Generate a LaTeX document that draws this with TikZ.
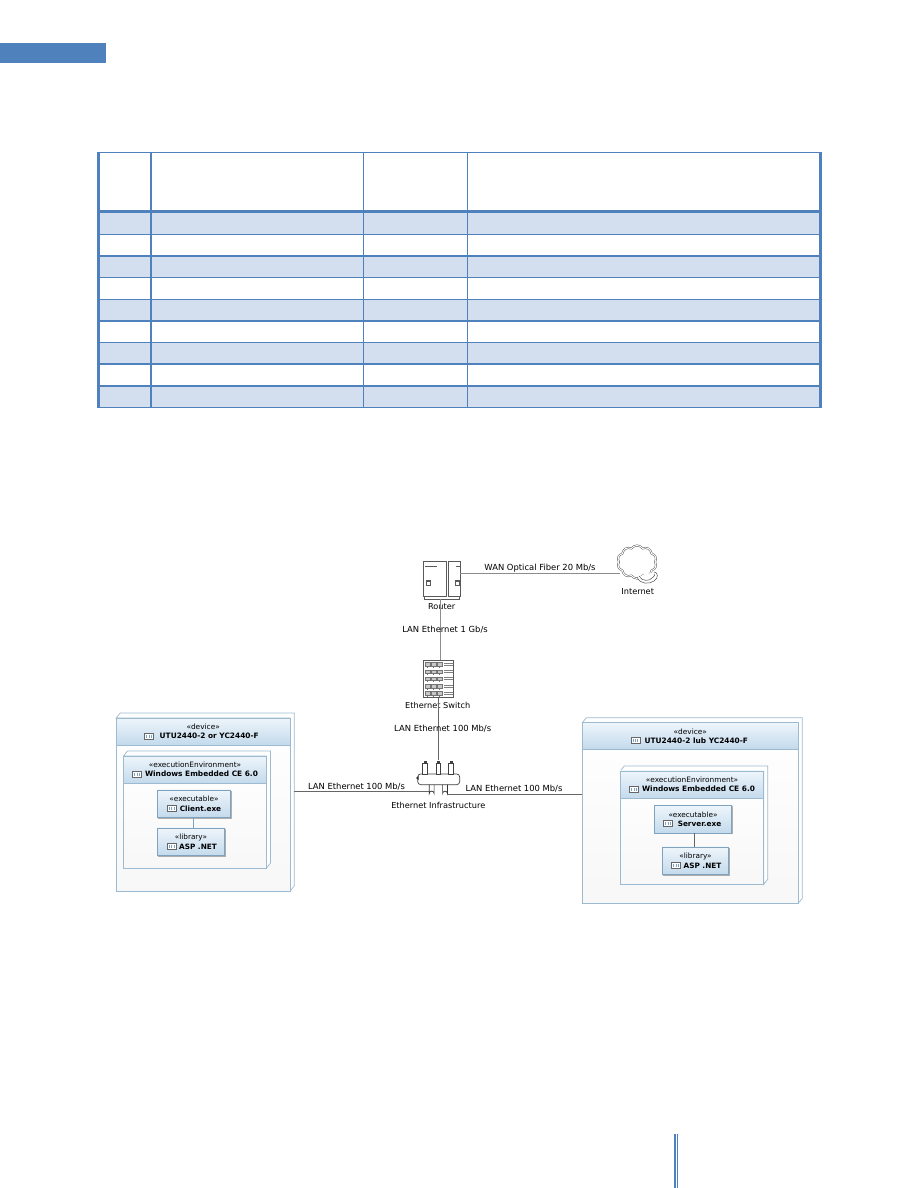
\documentclass[tikz,border=0pt]{standalone}
\usepackage{fontspec}
\setmainfont{DejaVu Sans}
\usetikzlibrary{shapes.symbols,shadows,calc}
\definecolor{acc}{HTML}{4F81BD}
\definecolor{band}{HTML}{D3DFEE}
\definecolor{edgeb}{HTML}{9DBBD0}
\definecolor{edged}{HTML}{7FA3BE}
\definecolor{headt}{HTML}{EEF5FB}
\definecolor{headb}{HTML}{C3DAEC}
\definecolor{linec}{HTML}{8C8C8C}
\tikzset{
  x=1pt,y=-1pt,
  thin rule/.style={acc,line width=1pt},
  thick rule/.style={acc,line width=2pt},
  heavy rule/.style={acc,line width=3pt},
  bodyfade/.style={draw=edgeb,line width=.7pt,inner sep=0,outer sep=0,top color=white,middle color=white,bottom color=black!3},
  headbox/.style={draw=edgeb,line width=.6pt,inner sep=0,outer sep=0,top color=headt,bottom color=headb,align=center,font=\fontsize{7.4}{9.2}\selectfont},
  artbox/.style={draw=edged,line width=.7pt,inner sep=0,outer sep=0,top color=headt,bottom color=headb,align=center,font=\fontsize{7.3}{9.2}\selectfont,drop shadow={shadow xshift=1pt,shadow yshift=-1pt,opacity=.3,fill=black}},
  wire/.style={linec,line width=.8pt},
  wirelabel/.style={font=\fontsize{8.4}{10}\selectfont,inner sep=0,text=black},
  netlabel/.style={font=\fontsize{8.2}{10}\selectfont,inner sep=0,text=black},
  glyph/.style={black!65,line width=.5pt},
}
\newcommand{\nm}[1]{\textbf{#1}}
\newcommand{\depth}[1]{\draw[edgeb,line width=.7pt,fill=white] (#1.north west) -- ++(4,-5) -- ($(#1.north east)+(4,-5)$) -- ($(#1.south east)+(4,-5)$) -- (#1.south east) -- (#1.north east) -- cycle;}
\newcommand{\icn}[2]{\draw[black!60,line width=.5pt,fill=white] (#1-4.5,#2-3.2) rectangle (#1+4.5,#2+3.2);\draw[edged,line width=.7pt] (#1-2.2,#2-1.5) -- (#1-2.2,#2+1.5) (#1,#2-1.5) -- (#1,#2+1.5) (#1+2.2,#2-1.5) -- (#1+2.2,#2+1.5);}
\begin{document}
\begin{tikzpicture}
\useasboundingbox (0,0) rectangle (918,1188);
\fill[white] (0,0) rectangle (918,1188);
% header bar
\fill[acc] (0,43) rectangle (106,63);
% footer bars
\fill[acc] (674,1134) rectangle (676,1188);
\fill[acc] (677,1134) rectangle (678,1188);
% table bands
\fill[band] (98,211) rectangle (820,234);
\fill[band] (98,256) rectangle (820,277);
\fill[band] (98,299) rectangle (820,321);
\fill[band] (98,342) rectangle (820,364);
\fill[band] (98,386) rectangle (820,407);
% table horizontal rules
\draw[thin rule] (97,152) -- (821,152);
\draw[heavy rule] (97,211) -- (821,211);
\draw[thin rule] (97,234.3) -- (821,234.3);
\draw[thick rule] (97,255.7) -- (821,255.7);
\draw[thin rule] (97,277.3) -- (821,277.3);
\draw[thin rule] (97,299.3) -- (821,299.3);
\draw[thick rule] (97,321) -- (821,321);
\draw[thin rule] (97,342.3) -- (821,342.3);
\draw[thick rule] (97,364) -- (821,364);
\draw[thick rule] (97,385.7) -- (821,385.7);
\draw[thin rule] (97,407.5) -- (821,407.5);
% table vertical rules
\draw[heavy rule] (98.3,151.5) -- (98.3,408);
\draw[thick rule] (151,151.5) -- (151,408);
\draw[thin rule] (363.5,151.5) -- (363.5,408);
\draw[thin rule] (467.7,151.5) -- (467.7,408);
\draw[heavy rule] (820,151.5) -- (820,408);

% left device
\node[draw=edgeb,line width=.7pt,minimum width=174pt,minimum height=173pt,inner sep=0,outer sep=0] (ldevo) at (203.2,804.5) {};
\depth{ldevo}
\node[bodyfade,minimum width=174pt,minimum height=173pt] (ldev) at (203.2,804.5) {};
\node[headbox,minimum width=174pt,minimum height=27pt] (ldevh) at (203.2,731.5) {«device»\\\hspace*{12pt}\nm{UTU2440-2 or YC2440-F}};
\node[draw=edgeb,line width=.7pt,minimum width=143pt,minimum height=112pt,inner sep=0,outer sep=0] (lenvo) at (195,812) {};
\depth{lenvo}
\node[bodyfade,minimum width=143pt,minimum height=112pt] (lenv) at (195,812) {};
\node[headbox,minimum width=143pt,minimum height=27pt] (lenvh) at (195,769.5) {«executionEnvironment»\\\hspace*{13pt}\nm{Windows Embedded CE 6.0}};
\node[artbox,minimum width=73.5pt,minimum height=27.7pt] (client) at (194,803.8) {«executable»\\\hspace*{13pt}\nm{Client.exe}};
\node[artbox,minimum width=67.5pt,minimum height=27.7pt] (llib) at (191,841.8) {«library»\\\hspace*{14pt}\nm{ASP .NET}};
\draw[edged,line width=.7pt] (client.south -| 193.3,0) -- (llib.north -| 193.3,0);
\icn{149}{736}
\icn{137}{774}
\icn{171.7}{808}
\icn{171.7}{846}

% right device
\node[draw=edgeb,line width=.7pt,minimum width=216pt,minimum height=180.6pt,inner sep=0,outer sep=0] (rdevo) at (690.3,813) {};
\depth{rdevo}
\node[bodyfade,minimum width=216pt,minimum height=180.6pt] (rdev) at (690.3,813) {};
\node[headbox,minimum width=216pt,minimum height=26.3pt] (rdevh) at (690.3,735.9) {«device»\\\hspace*{12pt}\nm{UTU2440-2 lub YC2440-F}};
\node[draw=edgeb,line width=.7pt,minimum width=143.4pt,minimum height=113.3pt,inner sep=0,outer sep=0] (renvo) at (692,827.6) {};
\depth{renvo}
\node[bodyfade,minimum width=143.4pt,minimum height=113.3pt] (renv) at (692,827.6) {};
\node[headbox,minimum width=143.4pt,minimum height=27.3pt] (renvh) at (692,784.6) {«executionEnvironment»\\\hspace*{13pt}\nm{Windows Embedded CE 6.0}};
\node[artbox,minimum width=77.4pt,minimum height=27.7pt] (server) at (693,819.2) {«executable»\\\hspace*{13pt}\nm{Server.exe}};
\node[artbox,minimum width=66.4pt,minimum height=27.7pt] (rlib) at (695.5,860.8) {«library»\\\hspace*{14pt}\nm{ASP .NET}};
\draw[black!60,line width=.7pt] (server.south -| 694.3,0) -- (rlib.north -| 694.3,0);
\icn{635.5}{740}
\icn{634}{789}
\icn{668}{823}
\icn{676}{865}

% router
\node[draw=black!65,line width=.6pt,minimum width=23pt,minimum height=35pt,inner sep=0,outer sep=0] (routerA) at (434.8,579.2) {};
\node[draw=black!65,line width=.6pt,minimum width=12pt,minimum height=35pt,inner sep=0,outer sep=0] (routerB) at (454,579.2) {};
\draw[glyph,line width=1pt] (446.4,561.7) -- (446.4,596.7);
\draw[glyph] (424.5,596.7) -- (424.5,599) -- (459,599) -- (459,596.7);
\draw[glyph,line width=.9pt] (425,566.5) -- (437,566.5) (456,566.5) -- (460,566.5);
\draw[glyph] (426,580) rectangle (430,585) (426,581.5) -- (430,581.5);
\draw[glyph] (455,580) rectangle (459,585) (455,581.5) -- (459,581.5);
\node[netlabel] (routerl) at (441.7,607) {Router};
% switch
\node[draw=black!65,line width=.6pt,fill=white,minimum width=30pt,minimum height=37.7pt,inner sep=0,outer sep=0] (switch) at (438.3,678.8) {};
\foreach \r in {0,...,4} {
  \foreach \c in {0,1,2} {
    \draw[black!55,line width=.5pt,fill=black!22] (425.5+\c*6,662.5+\r*7.3) rectangle ++(4.3,3.5);
    \draw[black!55,line width=.5pt] (427.6+\c*6,666+\r*7.3) -- ++(0,1.7);
  }
  \draw[black!50,line width=.5pt] (444,663+\r*7.3) -- (452.5,663+\r*7.3) (444,665+\r*7.3) -- (452.5,665+\r*7.3);
}
\node[netlabel] (switchl) at (437.7,705.7) {Ethernet Switch};
% hub
\foreach \nn/\x in {pd/431.7,pe/445} {
  \draw[black!80,line width=.7pt,fill=white] (\x-2.4,783) -- (\x-2.4,793.5) arc[start angle=180,end angle=360,radius=2.4] -- (\x+2.4,783);
}
\node[draw=black!75,line width=.7pt,fill=white,rounded corners=3pt,minimum width=42pt,minimum height=10.7pt,inner sep=0,outer sep=0] (hub) at (438.7,779.3) {};
\foreach \nn/\x in {pa/425,pb/438.3,pc/451} {
  \draw[black!75,line width=.7pt,fill=white] (\x-2.4,763) rectangle (\x+2.4,774);
  \fill[black!75] (\x-1.5,760.5) rectangle (\x+1.5,763);
  \coordinate (\nn) at (\x,760);
}
\coordinate (pdside) at (429.3,791.3);
\coordinate (peside) at (447.4,794.3);
\fill[black!80] (416,778) -- (418.5,776) -- (418.5,780) -- cycle;
\node[netlabel] (hubl) at (438.3,805) {Ethernet Infrastructure};
% cloud
\node[cloud,cloud puffs=10,cloud puff arc=110,aspect=1.15,draw=black!70,double=white,double distance=1pt,line width=.45pt,minimum width=39pt,minimum height=33pt,inner sep=0,outer sep=0] (internet) at (637,562) {};
\draw[black!70,line width=.5pt,fill=white] (637,577) .. controls (640,585) and (650,584) .. (654,581) .. controls (659,578) and (658,572) .. (654,572);
\draw[black!70,line width=.5pt] (639,576) .. controls (642,582) and (650,581) .. (652,578) .. controls (655,576) and (655,574) .. (654,574);
\node[netlabel] (internetl) at (637.7,592) {Internet};

% connectors
\coordinate (wanend) at (620,573.3);
\draw[wire] (routerB.east |- wanend) -- (wanend);
\draw[wire] (routerA.south -| 440.7,0) ++(0,2.4) -- (switch.north -| 440.7,0);
\draw[wire,black!60] (switch.south) -- (pb);
\draw[wire,black!60] (ldev.east |- pdside) ++(4,0) -- (pdside);
\draw[wire,black!60] (peside) -- (rdev.west |- peside);

% labels
\node[wirelabel] (wanl) at (540,568) {WAN Optical Fiber 20 Mb/s};
\node[wirelabel] (lan1) at (445,630) {LAN Ethernet 1 Gb/s};
\node[wirelabel] (lan2) at (442.7,729) {LAN Ethernet 100 Mb/s};
\node[wirelabel] (lan3) at (356.5,787) {LAN Ethernet 100 Mb/s};
\node[wirelabel] (lan4) at (514,789) {LAN Ethernet 100 Mb/s};
\end{tikzpicture}
\end{document}
